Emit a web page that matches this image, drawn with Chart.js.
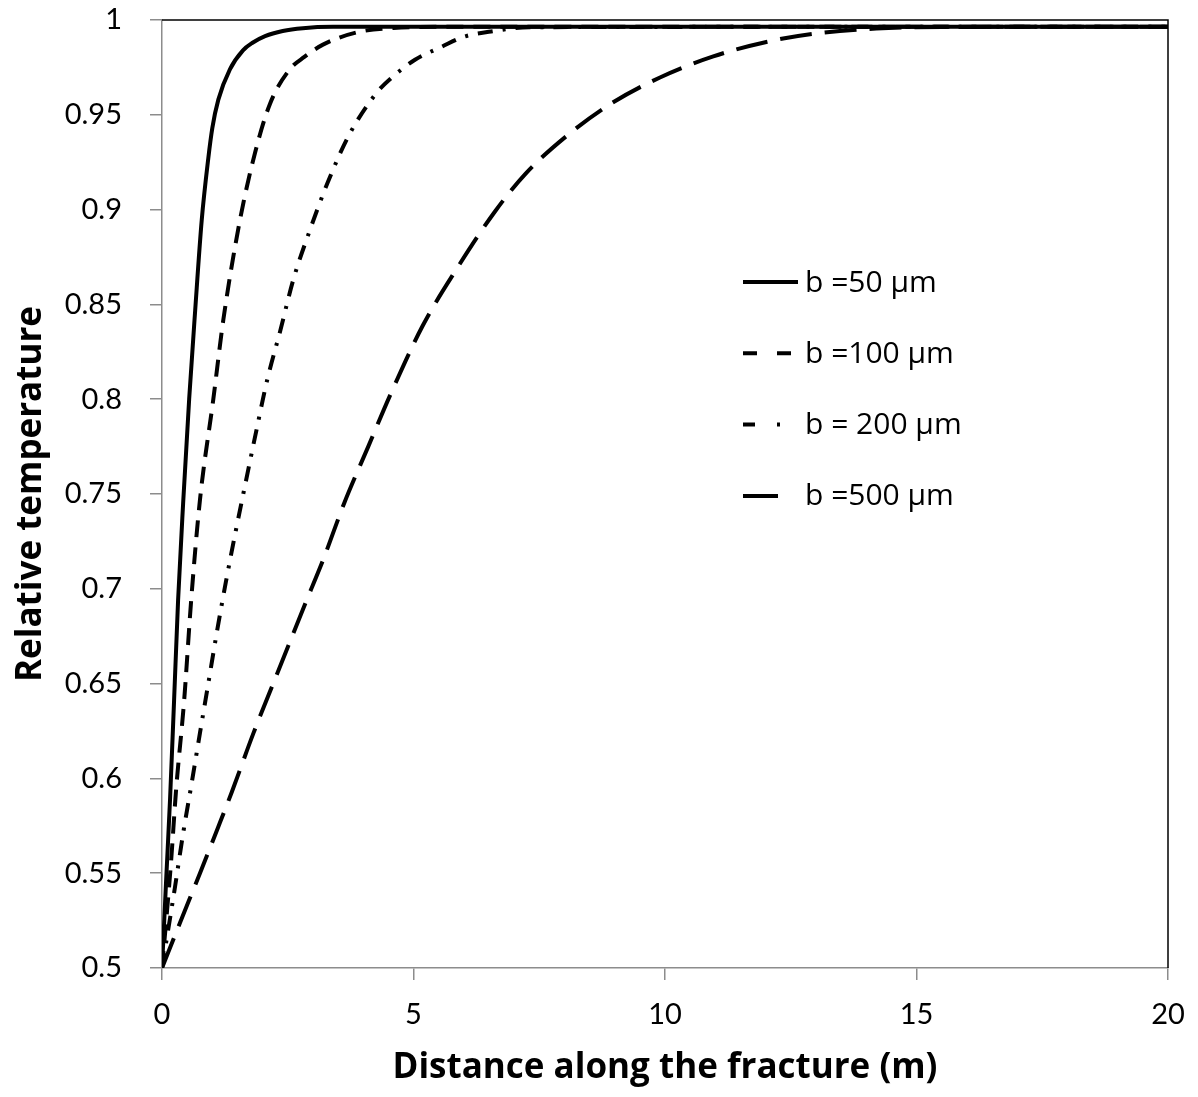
<!DOCTYPE html>
<html lang="en">
<head>
    <meta charset="UTF-8">
    <title>Relative temperature along the fracture</title>
    <style>
        body {
            margin: 0;
            background-color: #fff;
        }
        #chart {
            display: block;
        }
    </style>
    <script src="https://cdn.jsdelivr.net/npm/chart.js"></script>
</head>
<body>
    <canvas id="chart" width="1198" height="1097"></canvas>

    <script>
        // aperture labels
        const seriesLabels = ['b =50 \u00b5m', 'b =100 \u00b5m', 'b = 200 \u00b5m', 'b =500 \u00b5m'];

        // distance (m) and relative temperature for each aperture
        const distance50 = [0, 0.08, 0.16, 0.24, 0.32, 0.42, 0.54, 0.66, 0.79, 0.92, 1.0, 1.12, 1.35, 1.61, 1.8, 2.05, 2.4, 2.8, 3.4, 20];
        const temp50 = [0.5, 0.545, 0.589, 0.641, 0.694, 0.745, 0.8, 0.847, 0.8945, 0.927, 0.943, 0.958, 0.974, 0.984, 0.988, 0.9915, 0.9942, 0.9957, 0.9964, 0.9965];

        const distance100 = [0, 0.09, 0.18, 0.28, 0.44, 0.58, 0.755, 1.02, 1.22, 1.55, 1.85, 2.15, 2.54, 2.83, 3.2, 3.88, 4.6, 5.8, 20];
        const temp100 = [0.5, 0.527, 0.556, 0.594, 0.641, 0.694, 0.747, 0.8, 0.842, 0.8945, 0.93, 0.956, 0.974, 0.9805, 0.987, 0.9935, 0.9958, 0.9965, 0.9965];

        const distance200 = [0, 0.26, 0.42, 0.59, 0.755, 0.92, 1.09, 1.27, 1.47, 1.67, 1.88, 2.09, 2.35, 2.61, 2.93, 3.29, 3.72, 4.27, 4.57, 5.03, 5.56, 5.98, 6.54, 7.3, 20];
        const temp200 = [0.5, 0.543, 0.571, 0.5975, 0.624, 0.65, 0.677, 0.7036, 0.731, 0.757, 0.784, 0.81, 0.836, 0.863, 0.8884, 0.914, 0.9394, 0.9617, 0.9697, 0.979, 0.9859, 0.991, 0.9939, 0.9962, 0.9965];

        const distance500 = [0, 0.36, 0.755, 1.12, 1.39, 1.82, 2.21, 2.61, 2.86, 3.2, 3.62, 4.1, 4.55, 5.18, 5.86, 6.62, 7.23, 8.07, 8.91, 9.9, 10.96, 12.1, 13.0, 14.2, 15.5, 20];
        const temp500 = [0.5, 0.524, 0.55, 0.5745, 0.593, 0.624, 0.65, 0.6765, 0.693, 0.715, 0.745, 0.775, 0.803, 0.8386, 0.8688, 0.899, 0.919, 0.9394, 0.9556, 0.9697, 0.9808, 0.9889, 0.9929, 0.9955, 0.9963, 0.9965];

        // axis tick labels
        const xTickLabels = ['0', '5', '10', '15', '20'];
        const yTickLabels = ['0.5', '0.55', '0.6', '0.65', '0.7', '0.75', '0.8', '0.85', '0.9', '0.95', '1'];

        // line styles: plot dashes, and the short legend samples
        const dashPatterns = [[], [17, 10], [15, 10, 3, 10], [32, 13]];
        const legendDash = [[], [14, 20], [12, 22, 3, 100], []];
        const legendLen = [55, 49, 37, 35];

        function toPoints(xs, ys) {
            return xs.map((x, i) => ({ x: x, y: ys[i] }));
        }

        const seriesData = [
            toPoints(distance50, temp50),
            toPoints(distance100, temp100),
            toPoints(distance200, temp200),
            toPoints(distance500, temp500)
        ];

        // black frame on the top and right of the plot area
        const framePlugin = {
            id: 'frame',
            afterDatasetsDraw(chart) {
                const { ctx, chartArea } = chart;
                ctx.save();
                ctx.strokeStyle = '#000';
                ctx.lineWidth = 1.5;
                ctx.beginPath();
                ctx.moveTo(chartArea.left, chartArea.top);
                ctx.lineTo(chartArea.right, chartArea.top);
                ctx.lineTo(chartArea.right, chartArea.bottom);
                ctx.stroke();
                ctx.restore();
            }
        };

        // legend drawn inside the plot, one row per aperture
        const insideLegend = {
            id: 'insideLegend',
            afterDraw(chart) {
                const ctx = chart.ctx;
                const x0 = 743, textX = 805;
                const rowTop = 282, rowGap = 71.3;
                ctx.save();
                chart.data.datasets.forEach((ds, i) => {
                    const y = rowTop + i * rowGap;
                    ctx.strokeStyle = '#000';
                    ctx.lineWidth = 4;
                    ctx.setLineDash(legendDash[i]);
                    ctx.beginPath();
                    ctx.moveTo(x0, y);
                    ctx.lineTo(x0 + legendLen[i], y);
                    ctx.stroke();
                    ctx.setLineDash([]);
                    ctx.fillStyle = '#000';
                    ctx.font = '30px "Open Sans"';
                    ctx.textBaseline = 'middle';
                    ctx.textAlign = 'left';
                    ctx.fillText(ds.label, textX, y + 1);
                });
                ctx.restore();
            }
        };

        const ctx = document.getElementById('chart').getContext('2d');
        new Chart(ctx, {
            type: 'scatter',
            data: {
                datasets: seriesData.map((pts, i) => ({
                    label: seriesLabels[i],
                    data: pts,
                    showLine: true,
                    borderColor: '#000',
                    borderWidth: 4,
                    borderDash: dashPatterns[i],
                    pointRadius: 0,
                    fill: false,
                    cubicInterpolationMode: 'monotone'
                }))
            },
            options: {
                responsive: false,
                animation: false,
                layout: {
                    padding: { top: 20, right: 30, left: 0, bottom: 0 }
                },
                plugins: {
                    legend: { display: false },
                    tooltip: { enabled: false }
                },
                scales: {
                    x: {
                        type: 'linear',
                        min: 0,
                        max: 20,
                        afterFit: s => {
                            s.height = 129;
                            s.paddingLeft = 0;
                            s.paddingRight = 0;
                        },
                        ticks: {
                            stepSize: 5,
                            padding: 17,
                            color: '#000',
                            font: { family: 'Lato', size: 29 },
                            callback: (v, i) => xTickLabels[i]
                        },
                        grid: {
                            drawOnChartArea: false,
                            drawTicks: true,
                            tickLength: 12,
                            color: '#8c8c8c',
                            lineWidth: 1.5
                        },
                        border: { color: '#8c8c8c', width: 1.5 },
                        title: {
                            display: true,
                            text: 'Distance along the fracture (m)',
                            color: '#000',
                            font: { family: 'Open Sans', size: 35, weight: 'bold' },
                            padding: { top: 0, bottom: 8 }
                        }
                    },
                    y: {
                        min: 0.5,
                        max: 1,
                        afterFit: s => {
                            s.width = 162;
                            s.paddingTop = 0;
                            s.paddingBottom = 0;
                        },
                        ticks: {
                            stepSize: 0.05,
                            padding: 28,
                            color: '#000',
                            font: { family: 'Lato', size: 29 },
                            callback: (v, i) => yTickLabels[i]
                        },
                        grid: {
                            drawOnChartArea: false,
                            drawTicks: true,
                            tickLength: 12,
                            color: '#8c8c8c',
                            lineWidth: 1.5
                        },
                        border: { color: '#8c8c8c', width: 1.5 },
                        title: {
                            display: true,
                            text: 'Relative temperature',
                            color: '#000',
                            font: { family: 'Open Sans', size: 35, weight: 'bold' },
                            padding: { top: 10, bottom: 0 }
                        }
                    }
                }
            },
            plugins: [framePlugin, insideLegend]
        });
    </script>
</body>
</html>
